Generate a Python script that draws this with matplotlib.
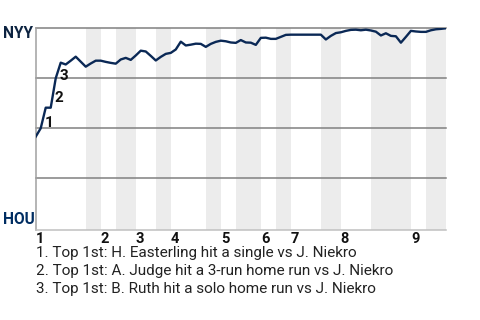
import matplotlib.pyplot as plt
import numpy as np

# win probability for NYY, one value per plate appearance
wp = [0.458, 0.500, 0.603, 0.603, 0.750, 0.828, 0.819, 0.838, 0.858, 0.833,
      0.808, 0.824, 0.838, 0.838, 0.832, 0.827, 0.823, 0.844, 0.852, 0.842,
      0.864, 0.888, 0.884, 0.862, 0.839, 0.857, 0.872, 0.877, 0.894, 0.933,
      0.914, 0.918, 0.923, 0.922, 0.907, 0.922, 0.932, 0.938, 0.935, 0.929,
      0.927, 0.941, 0.929, 0.928, 0.917, 0.952, 0.953, 0.947, 0.947, 0.957,
      0.967, 0.968, 0.968, 0.968, 0.968, 0.968, 0.968, 0.968, 0.944, 0.962,
      0.976, 0.980, 0.987, 0.992, 0.993, 0.990, 0.993, 0.989, 0.983, 0.964,
      0.975, 0.962, 0.960, 0.928, 0.957, 0.987, 0.984, 0.982, 0.982, 0.990,
      0.995, 0.997, 1.000]

# plate appearance index where each half inning starts
top_starts = [0, 13, 20, 27, 37, 45, 51, 61, 75]
bottom_starts = [10, 16, 24, 34, 40, 48, 57, 67, 78]
innings = ['1', '2', '3', '4', '5', '6', '7', '8', '9']

# key plays: label and where it sits
key_labels = ['1', '2', '3']
key_x = [2.66, 4.72, 5.72]
key_y = [0.527, 0.653, 0.762]
notes = ['1. Top 1st: H. Easterling hit a single vs J. Niekro',
         '2. Top 1st: A. Judge hit a 3-run home run vs J. Niekro',
         '3. Top 1st: B. Ruth hit a solo home run vs J. Niekro']

plt.rcParams['font.family'] = ['Roboto', 'DejaVu Sans']

fig = plt.figure(figsize=(4.8, 3.2), dpi=100, facecolor='white')
ax = fig.add_axes([0.0744, 0.28125, 0.8546, 0.6304])

x = np.arange(len(wp))
xmax = len(wp) - 1
ends = top_starts[1:] + [xmax]

# shade bottom halves
for b, e in zip(bottom_starts, ends):
    ax.axvspan(b, e, color='#ececec', lw=0, zorder=0)

# grid
for g in [0.25, 0.5, 0.75, 1.0]:
    ax.axhline(g, color='#808080', lw=1.1, zorder=1, clip_on=False)

ax.plot(x, wp, color='#0a2855', lw=1.7, zorder=3, solid_joinstyle='round')

for lab, kx, ky in zip(key_labels, key_x, key_y):
    ax.text(kx, ky, lab, fontsize=11, fontweight='bold', color='#111111',
            ha='center', va='center', zorder=4)

ax.set_xlim(0, xmax)
ax.set_ylim(-0.0085, 1.0)
ax.set_xticks([])
ax.set_yticks([])

# remove spines
ax.spines['top'].set_visible(False)
ax.spines['right'].set_visible(False)
ax.spines['left'].set_color('#a0a0a0')
ax.spines['bottom'].set_color('#c0c0c0')
ax.spines['left'].set_linewidth(1.1)
ax.spines['bottom'].set_linewidth(1.1)

# team labels
fig.text(2.5 / 480, 1 - 34 / 320, 'NYY', fontsize=11.2, fontweight='bold',
         color='#0c2340', ha='left', va='center')
fig.text(2.5 / 480, 1 - 220 / 320, 'HOU', fontsize=11.2, fontweight='bold',
         color='#002d62', ha='left', va='center')

# inning labels
for s, lab in zip(top_starts, innings):
    ax.text(s, -0.01, lab, fontsize=10.5, fontweight='bold', color='#111111',
            ha='left', va='top', transform=ax.get_xaxis_transform())

for i, n in enumerate(notes):
    fig.text(36 / 480, 1 - (253.5 + 18 * i) / 320, n, fontsize=11,
             color='#222222', ha='left', va='center')

fig.savefig('out.png', dpi=100, facecolor='white')
